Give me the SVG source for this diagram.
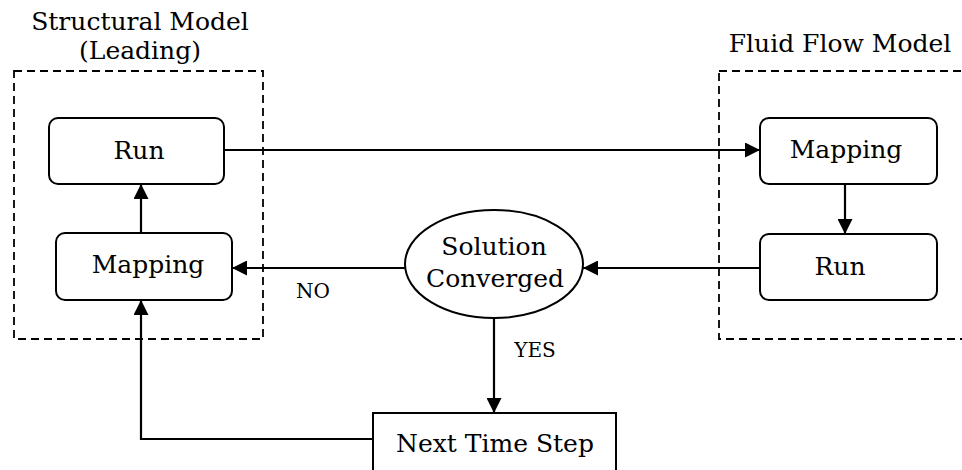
<svg xmlns="http://www.w3.org/2000/svg" width="962" height="470" viewBox="0 0 962 470">
  <style>
    .bg { fill: #ffffff; }
    .group { fill: none; stroke: #000; stroke-width: 1.8; stroke-dasharray: 8 5; }
    .box { fill: #ffffff; stroke: #000; stroke-width: 2; }
    .edge { fill: none; stroke: #000; stroke-width: 2.2; }
    .t { font-family: "DejaVu Serif", "Liberation Serif", serif; font-size: 25px; fill: #000; text-anchor: middle; }
    .lbl { font-family: "DejaVu Serif", "Liberation Serif", serif; font-size: 20px; fill: #000; text-anchor: middle; }
  </style>
  <defs>
    <marker id="arrow" markerUnits="userSpaceOnUse" markerWidth="15" markerHeight="15" refX="15" refY="7.5" orient="auto">
      <path d="M0,0 L15,7.5 L0,15 z" fill="#000"/>
    </marker>
  </defs>

  <rect class="bg" x="0" y="0" width="962" height="470"/>

  <!-- model containers -->
  <g id="structural-model">
    <rect class="group" x="14" y="71" width="249" height="268"/>
    <text class="t" x="140" y="30">Structural Model</text>
    <text class="t" x="140" y="59">(Leading)</text>
  </g>
  <g id="fluid-model">
    <rect class="group" x="719" y="71" width="270" height="268"/>
    <text class="t" x="840" y="52">Fluid Flow Model</text>
  </g>

  <!-- connectors -->
  <g id="connectors">
    <path class="edge" d="M224,150 H760" marker-end="url(#arrow)"/>
    <path class="edge" d="M845,184 V234" marker-end="url(#arrow)"/>
    <path class="edge" d="M760,268 H583" marker-end="url(#arrow)"/>
    <path class="edge" d="M405,268 H232" marker-end="url(#arrow)"/>
    <path class="edge" d="M141,233 V184" marker-end="url(#arrow)"/>
    <path class="edge" d="M494,318 V413" marker-end="url(#arrow)"/>
    <path class="edge" d="M373,439 H141 V300" marker-end="url(#arrow)"/>
    <text class="lbl" x="313" y="298">NO</text>
    <text class="lbl" x="535" y="357">YES</text>
  </g>

  <!-- nodes -->
  <g id="s-run">
    <rect class="box" x="49" y="118" width="175" height="66" rx="9"/>
    <text class="t" x="139" y="159">Run</text>
  </g>
  <g id="s-mapping">
    <rect class="box" x="56" y="233" width="176" height="67" rx="9"/>
    <text class="t" x="148" y="273">Mapping</text>
  </g>
  <g id="f-mapping">
    <rect class="box" x="760" y="118" width="177" height="66" rx="9"/>
    <text class="t" x="846" y="158">Mapping</text>
  </g>
  <g id="f-run">
    <rect class="box" x="760" y="234" width="177" height="66" rx="9"/>
    <text class="t" x="840" y="275">Run</text>
  </g>
  <g id="converged">
    <ellipse class="box" cx="494" cy="264" rx="89" ry="54"/>
    <text class="t" x="494" y="255">Solution</text>
    <text class="t" x="495" y="287">Converged</text>
  </g>
  <g id="next-step">
    <rect class="box" x="373" y="413" width="243" height="80"/>
    <text class="t" x="495" y="452">Next Time Step</text>
  </g>
</svg>
